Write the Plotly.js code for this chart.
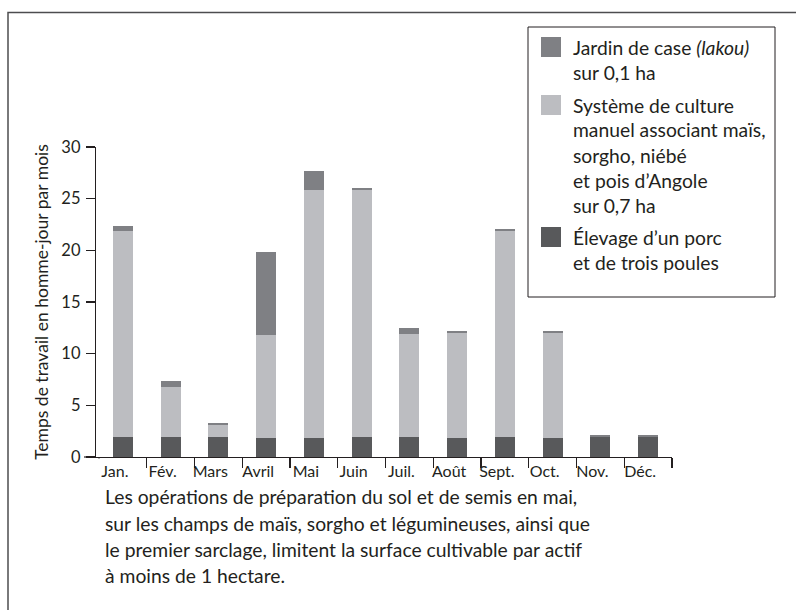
<!DOCTYPE html>
<html>
<head>
<meta charset="utf-8">
<script src="https://cdn.plot.ly/plotly-3.0.1.min.js"></script>
<style>html,body{margin:0;padding:0;background:#fff;}#chart{width:796px;height:610px;}</style>
</head>
<body>
<div id="chart"></div>
<script>
const months = ['Jan.','Fév.','Mars','Avril','Mai','Juin','Juil.','Août','Sept.','Oct.','Nov.','Déc.'];
const elevage = [1.9,1.9,1.9,1.8,1.8,1.9,1.9,1.8,1.9,1.8,1.9,1.9];
const culture = [20.0,4.9,1.2,10.0,24.0,23.9,10.0,10.2,20.0,10.2,0,0];
const jardin = [0.5,0.6,0.2,8.0,1.9,0.2,0.6,0.2,0.2,0.2,0.2,0.2];
const yTicks = [0,5,10,15,20,25,30];
const seriesNames = [
  ['Jardin de case <i>(lakou)</i>','sur 0,1 ha'],
  ['Système de culture','manuel associant maïs,','sorgho, niébé','et pois d’Angole','sur 0,7 ha'],
  ['Élevage d’un porc','et de trois poules']
];
const caption = [
  'Les opérations de préparation du sol et de semis en mai,',
  'sur les champs de maïs, sorgho et légumineuses, ainsi que',
  'le premier sarclage, limitent la surface cultivable par actif',
  'à moins de 1 hectare.'
];
const yTitle = 'Temps de travail en homme-jour par mois';

const colors = {jardin:'#7f8084', culture:'#bcbdc1', elevage:'#58595b'};
const ink = '#231f20';
const FONT = 'Lato, "Open Sans", sans-serif';

// layout geometry (px)
const W = 796, H = 610, L = 96, R = 124, T = 147, B = 153;
const pw = W - L - R, ph = H - T - B;
const X = px => (px - L) / pw;
const Y = py => (H - B - py) / ph;

const traces = [
  {type:'bar', x: months, y: elevage, name: seriesNames[2].join(' '), marker:{color:colors.elevage}},
  {type:'bar', x: months, y: culture, name: seriesNames[1].join(' '), marker:{color:colors.culture}},
  {type:'bar', x: months, y: jardin, name: seriesNames[0].join(' '), marker:{color:colors.jardin}}
];

const shapes = [
  // outer frame
  {type:'rect', xref:'paper', yref:'paper', x0:X(8), x1:X(805), y0:Y(620), y1:Y(12.5), line:{color:'#4d4d4f', width:1.5}},
  // x axis extension left of y axis
  {type:'line', xref:'paper', yref:'paper', x0:X(84), x1:X(96), y0:0, y1:0, line:{color:ink, width:1.2}},
  // mask the boundary tick just right of the y axis (not in the original)
  {type:'line', xref:'paper', yref:'paper', layer:'above', x0:X(99), x1:X(99), y0:Y(458.3), y1:Y(468), line:{color:'#fff', width:2.6}},
  // legend box
  {type:'rect', xref:'paper', yref:'paper', x0:X(528), x1:X(775), y0:Y(297), y1:Y(27), line:{color:ink, width:1}, fillcolor:'#fff'}
];
const annotations = [];
const legendItems = [
  {lines: seriesNames[0], color: colors.jardin, top: 47},
  {lines: seriesNames[1], color: colors.culture, top: 105},
  {lines: seriesNames[2], color: colors.elevage, top: 237}
];
legendItems.forEach(it => {
  shapes.push({type:'rect', xref:'paper', yref:'paper', x0:X(541), x1:X(561), y0:Y(it.top+10), y1:Y(it.top-10), line:{width:0}, fillcolor:it.color});
  it.lines.forEach((ln, i) => {
    annotations.push({xref:'paper', yref:'paper', x:X(571), y:Y(it.top + i*25), xanchor:'left', yanchor:'middle', showarrow:false, text: ln, font:{family:FONT, size:19.3, color:ink}});
  });
});
caption.forEach((ln, i) => {
  annotations.push({xref:'paper', yref:'paper', x:X(103), y:Y(497 + i*26), xanchor:'left', yanchor:'middle', showarrow:false, text: ln, font:{family:FONT, size:19.3, color:ink}});
});

const layout = {
  width: W, height: H,
  margin: {l:L, r:R, t:T, b:B, pad:0},
  paper_bgcolor:'#fff', plot_bgcolor:'#fff',
  barmode:'stack', bargap:0.58,
  showlegend:false,
  font:{family:FONT, color:ink},
  xaxis:{
    type:'category', range:[-0.563, 11.5], fixedrange:true,
    showline:true, linecolor:ink, linewidth:1.2,
    ticks:'outside', tickson:'boundaries', ticklen:10, tickcolor:ink, tickwidth:1.2,
    ticklabelshift:-8,
    showgrid:false, zeroline:false,
    tickfont:{family:FONT, size:16, color:ink}
  },
  yaxis:{
    range:[0,30], tickvals:yTicks, fixedrange:true,
    showline:true, linecolor:ink, linewidth:1.2,
    ticks:'outside', ticklen:9, tickcolor:ink, tickwidth:1.2,
    ticklabelstandoff:2,
    showgrid:false, zeroline:false,
    tickfont:{family:FONT, size:16.5, color:ink},
    title:{text:yTitle, font:{family:FONT, size:17.5, color:ink}, standoff:8}
  },
  shapes: shapes,
  annotations: annotations
};
Plotly.newPlot('chart', traces, layout, {displayModeBar:false, staticPlot:true});
</script>
</body>
</html>
